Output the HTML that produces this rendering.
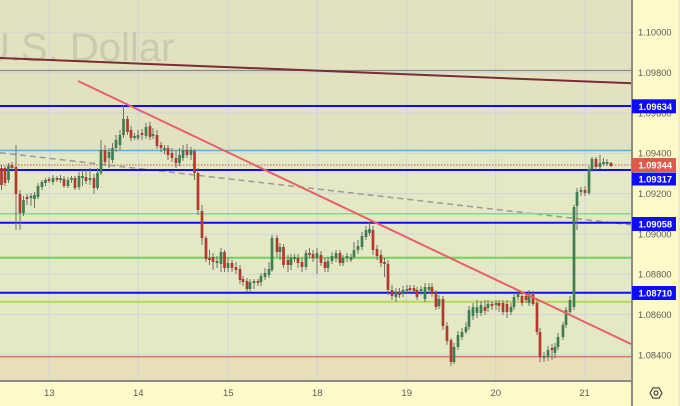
<!DOCTYPE html>
<html><head><meta charset="utf-8"><style>
html,body{margin:0;padding:0;background:#fefac9;}
svg{display:block;}
text{font-family:"Liberation Sans",sans-serif;}
</style></head><body>
<svg width="680" height="406" viewBox="0 0 680 406" xmlns="http://www.w3.org/2000/svg">
<!-- backgrounds -->
<rect x="0" y="0" width="680" height="406" fill="#fefac9"/>
<rect x="0" y="0" width="632" height="151" fill="#e2e2c1"/>
<rect x="0" y="151" width="632" height="206" fill="#e4e9c5"/>
<rect x="0" y="357" width="632" height="24" fill="#e8dfb9"/>
<!-- grid -->
<g stroke="#cfd4dc" stroke-width="1">
<path d="M0 32.3H632M0 72.6H632M0 113H632M0 153.3H632M0 193.6H632M0 234H632M0 274.3H632M0 314.6H632M0 355H632"/>
<path d="M49.3 0V381M138.3 0V381M228.3 0V381M317.3 0V381M406.7 0V381M495.7 0V381M585 0V381"/>
</g>
<!-- watermark -->
<text x="-19" y="61" font-size="40" fill="#c9caae">U.S. Dollar</text>
<!-- drawn lines -->
<line x1="0" y1="70.5" x2="632" y2="70.5" stroke="#8a8a86" stroke-width="1.2"/>
<line x1="0" y1="58" x2="632" y2="83.3" stroke="#7a2c32" stroke-width="2"/>
<line x1="0" y1="150.5" x2="632" y2="150.5" stroke="#52b1d8" stroke-width="1.5"/>
<line x1="0" y1="165" x2="632" y2="165" stroke="#c8564a" stroke-width="1" stroke-dasharray="1.5 1.5"/>
<line x1="0" y1="152.7" x2="632" y2="225" stroke="#9a9a96" stroke-width="1.5" stroke-dasharray="6 4"/>
<line x1="0" y1="213.7" x2="632" y2="213.7" stroke="#86d3a0" stroke-width="1.5"/>
<line x1="0" y1="257.7" x2="632" y2="257.7" stroke="#72cf62" stroke-width="2"/>
<line x1="0" y1="301.7" x2="632" y2="301.7" stroke="#b7d65c" stroke-width="2"/>
<line x1="0" y1="356.7" x2="632" y2="356.7" stroke="#df7a68" stroke-width="1.5"/>
<g stroke="#0d0dfa" stroke-width="2">
<line x1="0" y1="106" x2="632" y2="106"/>
<line x1="0" y1="170" x2="632" y2="170"/>
<line x1="0" y1="222.7" x2="632" y2="222.7"/>
<line x1="0" y1="292.7" x2="632" y2="292.7"/>
</g>
<!-- candles: wicks -->
<path fill="none" stroke="#707070" stroke-width="1" d="M1.5 165V190M5 166V186M8.5 163V183M12 162V170M16 145V230M20 190V230M23.5 196V216M27 194V205M31 193V206M34.5 192V208M38 183V199M42 180V190M45.5 178V186M49 177V183M53 175V185M57 176V182M60.5 175V183M64 176V188M68 177V188M71.5 176V183M75 176V190M79 172V190M82.5 170V186M86 170V184M90 168V185M94 174V194M97.5 168V190M101 140V175M105 145V166M109 148V168M112.5 143V163M116 135V152M120 130V150M123.5 105V138M127.5 116V135M131 126V141M134.5 133V140M138 130V140M142 129V140M146 123V139M150 122V140M153 128V139M157 130V149M161 142V152M164.5 145V154M168 145V160M172 148V162M176 150V168M179.5 148V166M183 145V161M187 144V158M191 147V160M194.5 149V180M198 168V215M202 205V245M206 236V262M209.5 250V265M213 253V270M217 256V268M221 248V272M224.5 250V272M228 258V272M232 260V272M236 262V274M240 265V284M243 276V286M247 278V292M250 279V292M254 279V289M258 279V286M261 273V286M265 268V280M269 262V278M272 235V272M277 235V257M280 243V260M283.5 244V268M288 255V272M291 254V270M294.5 254V262M298 254V268M302 258V272M306 250V270M309.5 248V258M313 250V262M317 248V274M321 251V266M325 258V272M328 257V272M332 252V264M336 250V262M340 250V266M343 255V266M347 253V262M351 254V262M354 242V259M358 240V254M362 232V250M366 226V240M369.5 222V236M373 226V255M377 245V260M381 250V267M384.5 258V277M388 260V295M392 285V300M396 288V302M399.5 288V298M403 286V297M407 285V294M410 285V294M414 285V293M417 287V300M421 286V295M425 283V302M429 283V294M432 283V297M436 290V310M439 295V309M443 296V330M447 322V345M451 338V366M454 343V364M458 331V350M462 328V340M466 322V334M469 306V330M473 303V320M477 300V318M481 301V316M485 300V315M488 300V312M492 301V310M496 300V310M499 300V312M503 300V315M507 300V318M511 303V315M514 293V310M518 291V300M522 292V306M526 293V303M529 290V306M533 291V306M537 300V335M540 328V362M544 352V362M548 346V361M552 344V360M555 343V358M558 333V350M563 322V340M566 307V328M570 296V315M574 205V310M577 188V230M581 187V196M585 186V196M589 166V195M592 157V172M596 157V170M600 155V169M603.5 158V166M607 159V166M611 162V167"/>
<!-- green bodies -->
<path fill="none" stroke="#3e7e52" stroke-width="2.7" d="M8.5 166V180M23.5 200V213M31 196V198M34.5 195V199M38 186V197M42 182V187M45.5 180V183M53 178V182M60.5 178V180M68 180V186M71.5 178V180M79 176V187M82.5 176V178M90 178V180M97.5 173V188M101 150V173M109 152V158M112.5 148V160M116 140V148M120 135V145M123.5 119V135M134.5 136V138M138 135V138M146 127V136M153 134V136M164.5 148V150M179.5 155V163M183 150V158M191 150V155M217 261V263M221 252V264M228 263V268M250 282V289M254 281V283M261 276V282M265 273V277M269 269V275M272 238V270M280 247V252M291 258V265M294.5 257V259M306 253V267M317 253V258M328 261V268M332 256V261M336 253V258M343 258V263M347 256V258M351 257V260M354 250V257M358 246V250M362 236V247M366 230V237M369.5 229V233M396 292V297M403 290V294M407 289V291M421 289V291M425 287V299M429 287V290M439 299V306M454 347V362M458 335V347M462 332V337M466 327V332M469 310V327M473 307V316M477 307V313M481 305V313M488 304V308M496 303V305M511 307V312M514 297V307M518 294V297M529 294V303M544 356V358M548 350V357M555 347V353M558 337V347M563 325V337M566 310V325M570 300V312M574 207V307M577 192V206M581 190V192M589 169V193M592 159V169M600 163V167M603.5 162V164M607 162V164"/>
<!-- red bodies -->
<path fill="none" stroke="#b3392c" stroke-width="2.7" d="M1.5 168V185M5 168V183M12 165V168M16 167V194M20 194V213M27 197V199M49 179V181M57 178V180M64 179V186M75 178V188M86 177V181M94 178V188M105 150V162M127.5 119V132M131 130V138M142 133V135M150 126V137M157 135V146M161 145V148M168 148V155M172 153V158M176 158V163M187 150V155M194.5 151V173M198 173V210M202 211V238M206 238V259M209.5 258V260M213 257V262M224.5 252V268M232 263V268M236 267V270M240 269V280M243 279V282M247 281V289M258 281V283M277 238V252M283.5 247V265M288 260V265M298 258V263M302 262V267M309.5 253V255M313 254V258M321 255V263M325 262V268M340 253V263M373 230V250M377 249V256M381 255V263M384.5 262V264M388 264V290M392 290V296M399.5 292V295M410 288V290M414 288V291M417 290V297M432 287V294M436 293V307M443 299V326M447 326V341M451 340V362M485 307V311M492 304V306M499 303V306M503 303V312M507 304V312M522 296V303M526 296V300M533 294V304M537 303V332M540 332V357M552 348V350M585 190V193M596 159V167M611 163V166"/>
<!-- trend line -->
<line x1="78" y1="81" x2="632" y2="344.5" stroke="#e8606a" stroke-width="2"/>
<!-- axes -->
<rect x="632" y="0" width="48" height="406" fill="#fefac9"/>
<rect x="0" y="382" width="632" height="24" fill="#fefac9"/>
<line x1="0" y1="381" x2="632" y2="381" stroke="#8c8c84" stroke-width="2"/>
<line x1="632" y1="0" x2="632" y2="406" stroke="#8c8c84" stroke-width="2"/>
<line x1="679" y1="0" x2="679" y2="406" stroke="#e0dcc0" stroke-width="1"/>
<!-- price labels -->
<g font-size="9.3" fill="#5a5a5a">
<text x="638" y="35.6">1.10000</text>
<text x="638" y="75.9">1.09800</text>
<text x="638" y="116.3">1.09600</text>
<text x="638" y="156.6">1.09400</text>
<text x="638" y="196.9">1.09200</text>
<text x="638" y="237.3">1.09000</text>
<text x="638" y="277.6">1.08800</text>
<text x="638" y="317.9">1.08600</text>
<text x="638" y="358.3">1.08400</text>
</g>
<g>
<rect x="632" y="99.3" width="44" height="14" fill="#0d0dfa"/>
<rect x="632" y="158" width="44" height="14" fill="#e05a4b"/>
<rect x="632" y="172.5" width="44" height="13" fill="#0d0dfa"/>
<rect x="632" y="217" width="44" height="14" fill="#0d0dfa"/>
<rect x="632" y="286" width="44" height="14" fill="#0d0dfa"/>
</g>
<g font-size="9.3" font-weight="bold" fill="#ffffff">
<text x="638.5" y="109.8">1.09634</text>
<text x="638.5" y="168.4">1.09344</text>
<text x="638.5" y="182.5">1.09317</text>
<text x="638.5" y="227.4">1.09058</text>
<text x="638.5" y="296.4">1.08710</text>
</g>
<!-- date labels -->
<g font-size="9.5" fill="#5a5a5a" text-anchor="middle">
<text x="49.3" y="396">13</text>
<text x="138.3" y="396">14</text>
<text x="228.3" y="396">15</text>
<text x="317.3" y="396">18</text>
<text x="406.7" y="396">19</text>
<text x="495.7" y="396">20</text>
<text x="584.5" y="396">21</text>
</g>
<!-- gear icon -->
<g fill="none" stroke="#444" stroke-width="1.2">
<polygon points="650,393 653,387.8 659,387.8 662,393 659,398.2 653,398.2"/>
<circle cx="656" cy="393" r="2"/>
</g>
</svg>
</body></html>
